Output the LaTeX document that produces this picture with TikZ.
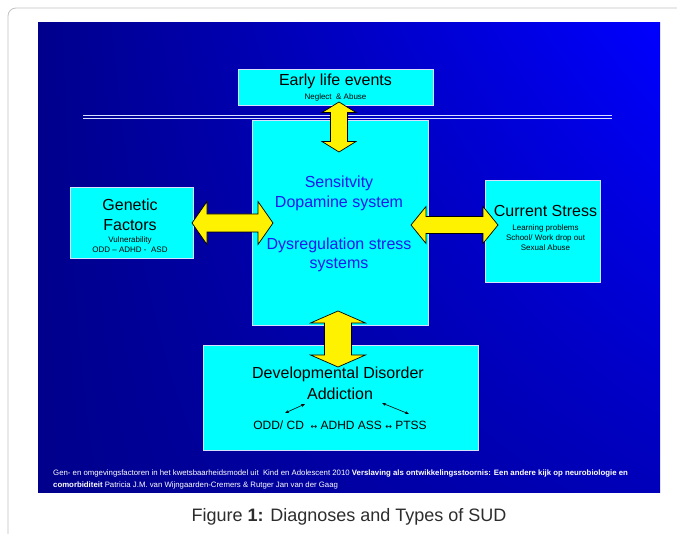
\documentclass[tikz,border=0pt]{standalone}
\usepackage{fontspec}
\setmainfont{Liberation Sans}
\newfontfamily\arrowfont{DejaVu Sans}
\usetikzlibrary{calc,arrows.meta,shadings}

\definecolor{panelnavy}{RGB}{0,0,140}
\definecolor{panelblue}{RGB}{0,0,255}
\definecolor{boxcyan}{RGB}{0,255,255}
\definecolor{boxedge}{RGB}{215,225,255}
\definecolor{textblue}{RGB}{25,25,235}
\definecolor{framegray}{RGB}{195,195,195}
\definecolor{captiongray}{RGB}{45,45,45}
\newcommand{\titlesize}{\fontsize{16}{18}\selectfont}
\newcommand{\smallsize}{\fontsize{8}{9}\selectfont}
\newcommand{\notesize}{\fontsize{7.8}{9}\selectfont}
% yellow double block arrow: from, to, half head, half shaft, head length
\newcommand{\blockarrow}[5]{%
\coordinate (ba) at ($(#1)!#5!(#2)$);
\coordinate (bb) at ($(#2)!#5!(#1)$);
\draw [blockarrow] (#1) -- ($(ba)!#3!90:(#2)$) -- ($(ba)!#4!90:(#2)$) -- ($(bb)!#4!-90:(#1)$) -- ($(bb)!#3!-90:(#1)$) -- (#2)
	-- ($(bb)!#3!90:(#1)$) -- ($(bb)!#4!90:(#1)$) -- ($(ba)!#4!-90:(#2)$) -- ($(ba)!#3!-90:(#2)$) -- cycle;}

\begin{document}
\begin{tikzpicture}[x=1pt,y=-1pt,
	box/.style={draw=boxedge,line width=0.8pt,fill=boxcyan,inner sep=0pt},
	blockarrow/.style={draw=black,line width=0.7pt,fill=yellow},
	title/.style={font=\titlesize,inner sep=0pt},
	sub/.style={font=\smallsize,inner sep=0pt}]

\useasboundingbox (0,0) rectangle (677,534);
\fill [white] (0,0) rectangle (677,534);
\draw [framegray,line width=0.8pt,rounded corners=8pt] (8,534) -- (8,8) -- (677,8);
\shade [upper left=panelnavy,upper right=panelblue,lower left=panelnavy,lower right=panelnavy!60!panelblue] (38,23) rectangle (660,492);
\draw [boxedge] (83,115) -- (612,115);
\draw [boxedge] (83,118.5) -- (612,118.5);

\node (early)	at (335.5,87)	[box,minimum width=195pt,minimum height=36pt] {};
\node (core)	at (340.5,222.5)	[box,minimum width=176pt,minimum height=205pt] {};
\node (genetic)	at (131.5,222.5)	[box,minimum width=123pt,minimum height=71pt] {};
\node (stress)	at (542.5,231)	[box,minimum width=115pt,minimum height=102pt] {};
\node (develop)	at (340.5,397.5)	[box,minimum width=275pt,minimum height=105pt] {};

\node (early_title)	at (335.5,81)	[title] {Early life events};
\node (early_sub)	at (335.5,97.5)	[sub] {Neglect\ \ \& Abuse};

\node (core_sens)	at (339,183)	[title,textblue] {Sensitvity};
\node (core_dopa)	at (339,203)	[title,textblue] {Dopamine system};
\node (core_dysr)	at (339,245)	[title,textblue] {Dysregulation stress};
\node (core_syst)	at (339,265)	[title,textblue] {systems};

\node (genetic_1)	at (130,205)	[title] {Genetic};
\node (genetic_2)	at (130,225)	[title] {Factors};
\node (genetic_3)	at (130,240)	[sub] {Vulnerability};
\node (genetic_4)	at (130,250)	[sub] {ODD -- ADHD -\ \ ASD};

\node (stress_title)	at (545.5,211)	[title] {Current Stress};
\node (stress_1)	at (545.5,228)	[sub] {Learning problems};
\node (stress_2)	at (545.5,238)	[sub] {School/ Work drop out};
\node (stress_3)	at (545.5,248)	[sub] {Sexual Abuse};

\node (develop_1)	at (338,374)	[title] {Developmental Disorder};
\node (develop_2)	at (340,394)	[title] {Addiction};
\node (develop_3)	at (340,425)	[font=\fontsize{12}{14}\selectfont,inner sep=0pt] {ODD/ CD\ \ {\arrowfont\fontsize{8}{9}\selectfont ↔} ADHD ASS {\arrowfont\fontsize{8}{9}\selectfont ↔} PTSS};
\coordinate (left_a)	at (305,404);
\coordinate (left_b)	at (285,413);
\coordinate (right_a)	at (382,403);
\coordinate (right_b)	at (409,414);
\draw [{Stealth[length=4pt,width=3pt]}-{Stealth[length=4pt,width=3pt]},line width=0.6pt] (left_a) -- (left_b);
\draw [{Stealth[length=4pt,width=3pt]}-{Stealth[length=4pt,width=3pt]},line width=0.6pt] (right_a) -- (right_b);

\coordinate (early_in)	at (339,102);
\coordinate (early_out)	at (339,152);
\coordinate (genetic_in)	at (192,223);
\coordinate (genetic_out)	at (273,223);
\coordinate (stress_in)	at (411,225);
\coordinate (stress_out)	at (498,225);
\coordinate (develop_in)	at (338,311);
\coordinate (develop_out)	at (338,367);
\blockarrow{early_in}{early_out}{17pt}{8.5pt}{10.5pt}
\blockarrow{genetic_in}{genetic_out}{21.5pt}{9pt}{15pt}
\blockarrow{stress_in}{stress_out}{18.5pt}{8.5pt}{15pt}
\blockarrow{develop_in}{develop_out}{27.5pt}{13.5pt}{12pt}

\node (note_1)	at (53,473)	[anchor=west,white,font=\notesize,inner sep=0pt] {Gen- en omgevingsfactoren in het kwetsbaarheidsmodel uit\ \ Kind en Adolescent 2010 \textbf{Verslaving als ontwikkelingsstoornis: Een andere kijk op neurobiologie en}};
\node (note_2)	at (53,485)	[anchor=west,white,font=\notesize,inner sep=0pt] {\textbf{comorbiditeit} Patricia J.M. van Wijngaarden-Cremers \& Rutger Jan van der Gaag};

\node (caption)	at (349,517)	[captiongray,font=\fontsize{18}{20}\selectfont] {Figure \textbf{1:} Diagnoses and Types of SUD};

\end{tikzpicture}
\end{document}
